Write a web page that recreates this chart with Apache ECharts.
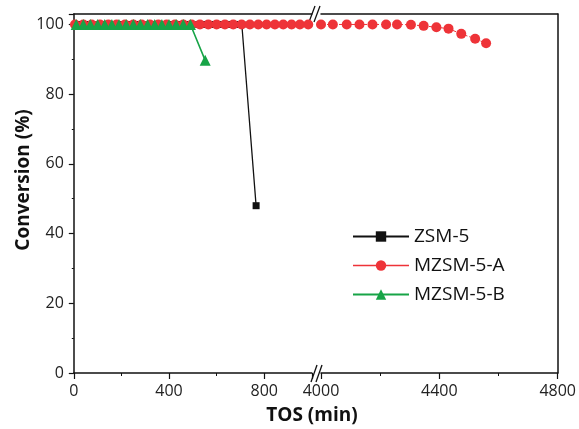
<!DOCTYPE html>
<html>
<head>
<meta charset="utf-8">
<script src="https://cdn.jsdelivr.net/npm/echarts@6/dist/echarts.min.js"></script>
<style>html,body{margin:0;padding:0;background:#fff}#c{width:579px;height:429px}</style>
</head>
<body>
<div id="c"></div>
<script>
// ---- data ----
var seriesNames = ['ZSM-5', 'MZSM-5-A', 'MZSM-5-B'];
var zsmX = [16,46,76,106,136,166,196,226,256,286,316,346,376,406,436,466,496,526,556,586,616,646,676,706,766];
var zsmY = [100,100,100,100,100,100,100,100,100,100,100,100,100,100,100,100,100,100,100,100,100,100,100,100,48];
var mzsmAX1 = [5,40,75,110,145,180,215,250,285,320,355,390,425,460,495,530,565,600,635,670,705,740,775,810,845,880,915,950,985];
var mzsmAY1 = [100,100,100,100,100,100,100,100,100,100,100,100,100,100,100,100,100,100,100,100,100,100,100,100,100,100,100,100,100];
var mzsmAX2 = [4000,4040,4087,4130,4174,4220,4257,4304,4347,4390,4431,4474,4521,4558];
var mzsmAY2 = [100,100,100,100,100,100,100,99.9,99.6,99.2,98.8,97.3,95.9,94.6];
var mzsmBX = [10,40,70,100,130,160,190,220,250,280,310,340,370,400,430,460,490,552];
var mzsmBY = [100,100,100,100,100,100,100,100,100,100,100,100,100,100,100,100,100,89.7];
var xTicksLeft = [0,400,800];
var xTicksRight = [4000,4400,4800];
var yTicks = [0,20,40,60,80,100];

function pairs(xs, ys){ return xs.map(function(x,i){return [x, ys[i]];}); }

var FONT = '"Open Sans", sans-serif';
var BLACK = '#111';
var RED = '#ee3338';
var GREEN = '#17a447';

var chart = echarts.init(document.getElementById('c'), null, {renderer:'canvas'});

var gridTop = 14, gridBottom = 56;
function yAx(grid, showLeft){
  return {
    type:'value', gridIndex:grid, min:0, max:103, interval:20,
    position: showLeft ? 'left' : 'right',
    axisLine:{show:true, lineStyle:{color:BLACK, width:1.5}},
    axisTick:{show:showLeft, inside:false, length:5, lineStyle:{color:BLACK, width:1.2}},
    minorTick:{show:showLeft, splitNumber:2, length:2, lineStyle:{color:BLACK, width:1}},
    axisLabel:{show:showLeft, fontFamily:FONT, fontSize:16, color:'#222', margin:10,
      formatter:function(v){ return yTicks.indexOf(v) >= 0 ? String(v) : ''; }},
    splitLine:{show:false}
  };
}
function xAx(grid, min, max, ticks){
  return {
    type:'value', gridIndex:grid, min:min, max:max, interval:400, position:'bottom',
    axisLine:{show:true, onZero:false, lineStyle:{color:BLACK, width:1.5}},
    axisTick:{show:true, length:6, lineStyle:{color:BLACK, width:1.2}},
    minorTick:{show:true, splitNumber:2, length:3, lineStyle:{color:BLACK, width:1}},
    axisLabel:{fontFamily:FONT, fontSize:16, color:'#222', margin:10,
      showMaxLabel: true, showMinLabel:true,
      formatter:function(v){ return ticks.indexOf(v) >= 0 ? String(v) : ''; }},
    splitLine:{show:false}
  };
}
function xTop(grid, min, max){
  return {
    type:'value', gridIndex:grid, min:min, max:max, position:'top',
    axisLine:{show:true, onZero:false, lineStyle:{color:BLACK, width:1.5}},
    axisTick:{show:false}, axisLabel:{show:false}, splitLine:{show:false}
  };
}

var option = {
  animation:false,
  backgroundColor:'#fff',
  grid:[
    {left:73.8, width:238, top:gridTop, bottom:gridBottom},
    {left:321, right:19.5, top:gridTop, bottom:gridBottom}
  ],
  xAxis:[
    xAx(0, 0, 1000, xTicksLeft),
    xAx(1, 4000, 4800, xTicksRight),
    xTop(0, 0, 1000),
    xTop(1, 4000, 4800)
  ],
  yAxis:[ yAx(0, true), yAx(1, false) ],
  legend:{
    orient:'vertical', left:347, top:222, itemWidth:56, itemHeight:13, itemGap:10,
    data:[
      {name:'ZSM-5'},
      {name:'MZSM-5-A', lineStyle:{type:'solid', width:1.3}},
      {name:'MZSM-5-B'}
    ],
    textStyle:{fontFamily:FONT, fontSize:19, color:'#111'}
  },
  graphic:[
    {type:'text', x:312, y:416, silent:true,
      style:{text:'TOS (min)', fontFamily:FONT, fontSize:19, fontWeight:'bold', fill:'#111', align:'center', verticalAlign:'middle'}},
    {type:'text', x:24, y:180, rotation:Math.PI/2, silent:true,
      style:{text:'Conversion (%)', fontFamily:FONT, fontSize:19, fontWeight:'bold', fill:'#111', align:'center', verticalAlign:'middle'}},
    // break marks bottom
    {type:'line', silent:true, shape:{x1:311, y1:382, x2:317, y2:365}, style:{stroke:BLACK, lineWidth:1.3}},
    {type:'line', silent:true, shape:{x1:316, y1:382, x2:322, y2:365}, style:{stroke:BLACK, lineWidth:1.3}},
    // break marks top
    {type:'line', silent:true, shape:{x1:309, y1:22, x2:315, y2:6}, style:{stroke:BLACK, lineWidth:1.3}},
    {type:'line', silent:true, shape:{x1:314, y1:22, x2:320, y2:6}, style:{stroke:BLACK, lineWidth:1.3}}
  ],
  series:[
    {name:'ZSM-5', type:'line', xAxisIndex:0, yAxisIndex:0, data:pairs(zsmX, zsmY),
      symbol:'rect', symbolSize:7, color:BLACK, lineStyle:{color:BLACK, width:1.3},
      itemStyle:{color:BLACK}, clip:true},
    {name:'MZSM-5-A', type:'line', xAxisIndex:0, yAxisIndex:0, data:pairs(mzsmAX1, mzsmAY1),
      symbol:'circle', symbolSize:10, color:RED, lineStyle:{color:RED, width:1, type:'dashed'},
      itemStyle:{color:RED}, clip:true},
    {name:'MZSM-5-A', type:'line', xAxisIndex:1, yAxisIndex:1, data:pairs(mzsmAX2, mzsmAY2),
      symbol:'circle', symbolSize:10, color:RED, lineStyle:{color:RED, width:1, type:'dashed'},
      itemStyle:{color:RED}, clip:true},
    {name:'MZSM-5-B', type:'line', xAxisIndex:0, yAxisIndex:0, data:pairs(mzsmBX, mzsmBY),
      symbol:'triangle', symbolSize:11, color:GREEN, lineStyle:{color:GREEN, width:1.6},
      itemStyle:{color:GREEN}, clip:true}
  ]
};
chart.setOption(option);
</script>
</body>
</html>
